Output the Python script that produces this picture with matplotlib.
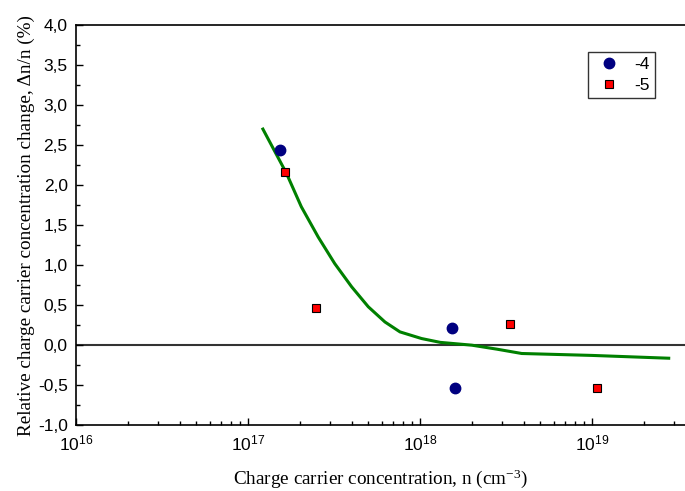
#!/usr/bin/env python3
"""
Relative change of charge carrier concentration vs. concentration.
Saves out.png
"""

import math

import matplotlib
matplotlib.use("Agg")
import matplotlib.pyplot as plt
from matplotlib.ticker import FuncFormatter, MultipleLocator, LogLocator, NullFormatter

plt.rcParams["mathtext.default"] = "regular"

# experimental points
n_m4 = [1.53e17, 1.53e18, 1.60e18]
dn_m4 = [2.44, 0.21, -0.53]

n_m5 = [1.64e17, 2.50e17, 3.33e18, 1.07e19]
dn_m5 = [2.16, 0.46, 0.26, -0.53]

# calculated curve
n_calc = [1.22e17, 1.67e17, 2.04e17, 2.56e17, 3.19e17, 4.0e17, 5.0e17, 6.25e17,
          7.64e17, 1.02e18, 1.31e18, 2.0e18, 2.8e18, 3.9e18, 1.0e19, 2.79e19]
dn_calc = [2.70, 2.15, 1.73, 1.35, 1.02, 0.73, 0.48, 0.29,
           0.166, 0.083, 0.035, 0.0, -0.05, -0.104, -0.128, -0.163]

SANS = "Liberation Sans"
SERIF = "Liberation Serif"


def main():
    fig = plt.figure(figsize=(6.85, 4.91), dpi=100)
    ax = fig.add_axes([0.111, 0.134, 0.889, 0.815])

    ax.axhline(0.0, color="#333333", lw=1.5, zorder=1)
    ax.plot(n_calc, dn_calc, color="#008000", lw=2.2, zorder=2)
    ax.plot(n_m4, dn_m4, "o", color="#000080", ms=7.5, mec="#000080",
            label="-4", zorder=3)
    ax.plot(n_m5, dn_m5, "s", color="#ff0000", ms=5.8, mec="black", mew=0.8,
            label="-5", zorder=3)

    ax.set_xscale("log")
    ax.set_xlim(1e16, 3.47e19)
    ax.set_ylim(-1.0, 4.0)

    ax.xaxis.set_major_locator(LogLocator(base=10, numticks=10))
    ax.xaxis.set_minor_locator(LogLocator(base=10, subs=range(2, 10), numticks=20))
    ax.xaxis.set_minor_formatter(NullFormatter())
    ax.xaxis.set_major_formatter(
        FuncFormatter(lambda v, p: r"$10^{%d}$" % round(math.log10(v)))
    )
    ax.yaxis.set_major_locator(MultipleLocator(0.5))
    ax.yaxis.set_minor_locator(MultipleLocator(0.25))
    ax.yaxis.set_major_formatter(FuncFormatter(lambda v, p: f"{v:.1f}".replace(".", ",")))

    ax.tick_params(which="both", direction="in", top=False, right=False, width=1)
    ax.tick_params(which="major", length=5, labelsize=12.5, pad=6)
    ax.tick_params(which="minor", length=3)
    for lab in ax.get_xticklabels() + ax.get_yticklabels():
        lab.set_fontfamily(SANS)

    ax.spines["right"].set_visible(False)
    for s in ("left", "bottom", "top"):
        ax.spines[s].set_linewidth(1.2)

    ax.set_xlabel(r"Charge carrier concentration, n (cm$^{-3}$)",
                  fontfamily=SERIF, fontsize=13.8, labelpad=10)
    ax.set_ylabel("Relative charge carrier concentration change, \u0394n/n (%)",
                  fontfamily=SERIF, fontsize=13.8, labelpad=2)

    leg = ax.legend(loc="upper right", bbox_to_anchor=(0.951, 0.9325),
                    borderaxespad=0, frameon=True, fancybox=False,
                    edgecolor="black", prop={"family": SANS, "size": 12.5},
                    handlelength=1.9, handletextpad=0.5, borderpad=0.3,
                    labelspacing=0.3)
    leg.get_frame().set_linewidth(1.0)

    fig.savefig("out.png", dpi=100)
    plt.close(fig)


if __name__ == "__main__":
    main()
